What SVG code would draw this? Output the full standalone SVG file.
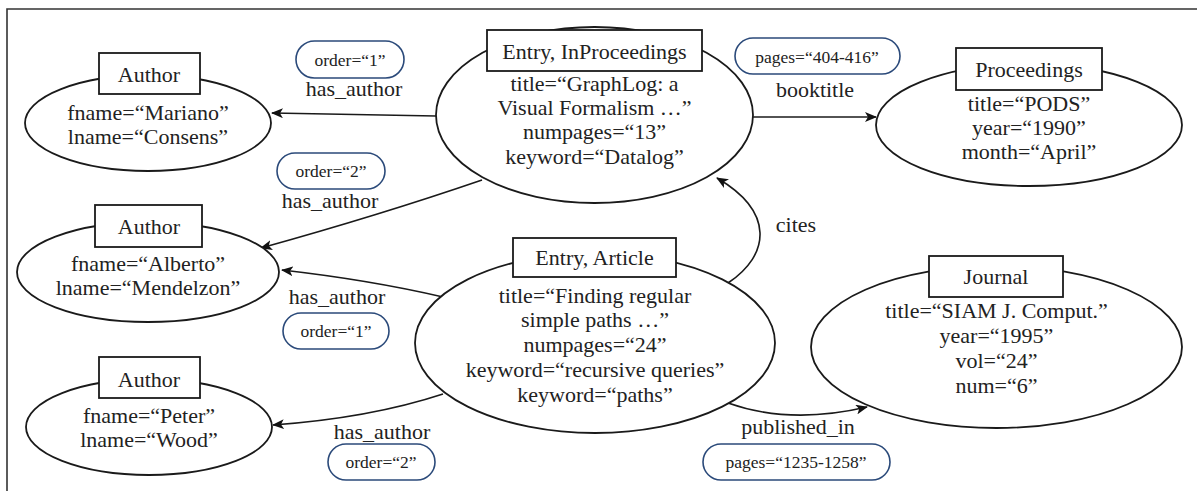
<svg xmlns="http://www.w3.org/2000/svg" width="1197" height="491" viewBox="0 0 1197 491" font-family="'Liberation Serif', 'Times New Roman', 'DejaVu Serif', serif">
<defs>
<marker id="arr" markerWidth="12" markerHeight="10" refX="11" refY="5" orient="auto" markerUnits="userSpaceOnUse">
<path d="M0,0 L12,5 L0,10 L3,5 Z" fill="#111"/>
</marker>
<style>
.bg{fill:#fff}
.frame{fill:none;stroke:#333;stroke-width:1.6}
.ell{fill:#fff;stroke:#1a1a1a;stroke-width:1.8}
.box{fill:#fff;stroke:#1a1a1a;stroke-width:1.8}
.pill{fill:#fff;stroke:#2b4a7a;stroke-width:1.6}
.edge{fill:none;stroke:#1a1a1a;stroke-width:1.6;marker-end:url(#arr)}
text{font-family:'Liberation Serif', 'Times New Roman', serif;fill:#222;text-anchor:middle}
.t{font-size:22px}
.s{font-size:17.5px}
</style>
</defs>
<rect class="bg" x="0" y="0" width="1197" height="491"/>
<path class="frame" d="M7,491 L7,9 L1197,9"/>

<g id="connectors">
<path class="edge" d="M436,116 L272,113"/>
<path class="edge" d="M482,180 Q380,215 261,248"/>
<path class="edge" d="M443,297 Q370,280 282,270"/>
<path class="edge" d="M443,394 Q370,418 273,425"/>
<path class="edge" d="M753,117 L876,117"/>
<path class="edge" d="M728,283 C770,255 775,212 717,178"/>
<path class="edge" d="M728,403 Q790,425 867,407"/>
<g id="label-ha1"><rect class="pill" x="296" y="41" width="108" height="37" rx="18.5"/><text class="s" x="350" y="66">order=“1”</text><text class="t" x="354" y="96">has_author</text></g>
<g id="label-ha2"><rect class="pill" x="277" y="153" width="108" height="36" rx="18"/><text class="s" x="331" y="177">order=“2”</text><text class="t" x="330" y="208">has_author</text></g>
<g id="label-ha3"><text class="t" x="337" y="304">has_author</text><rect class="pill" x="283" y="313" width="106" height="36" rx="18"/><text class="s" x="336" y="337">order=“1”</text></g>
<g id="label-ha4"><text class="t" x="382" y="439">has_author</text><rect class="pill" x="328" y="444" width="107" height="36" rx="18"/><text class="s" x="381" y="468">order=“2”</text></g>
<g id="label-booktitle"><rect class="pill" x="735" y="38" width="165" height="36" rx="18"/><text class="s" x="817" y="63">pages=“404-416”</text><text class="t" x="815" y="97">booktitle</text></g>
<g id="label-cites"><text class="t" x="796" y="232">cites</text></g>
<g id="label-published"><text class="t" x="798" y="434">published_in</text><rect class="pill" x="703" y="444" width="187" height="36" rx="18"/><text class="s" x="796" y="468">pages=“1235-1258”</text></g>
</g>

<g id="author1">
<ellipse class="ell" cx="148" cy="123" rx="123" ry="48"/>
<rect class="box" x="99" y="53" width="101" height="41"/>
<text class="t" x="149" y="82">Author</text>
<text class="t" x="148" y="120">fname=“Mariano”</text>
<text class="t" x="148" y="144">lname=“Consens”</text>
</g>

<g id="author2">
<ellipse class="ell" cx="148" cy="272" rx="131" ry="50"/>
<rect class="box" x="95" y="205" width="107" height="42"/>
<text class="t" x="149" y="234">Author</text>
<text class="t" x="148" y="271">fname=“Alberto”</text>
<text class="t" x="148" y="295">lname=“Mendelzon”</text>
</g>

<g id="author3">
<ellipse class="ell" cx="149" cy="427" rx="123" ry="48"/>
<rect class="box" x="99" y="357" width="101" height="41"/>
<text class="t" x="149" y="387">Author</text>
<text class="t" x="149" y="423">fname=“Peter”</text>
<text class="t" x="149" y="447">lname=“Wood”</text>
</g>

<g id="inproceedings">
<ellipse class="ell" cx="594.5" cy="115" rx="158.5" ry="88"/>
<rect class="box" x="487" y="30" width="215" height="41"/>
<text class="t" x="594.5" y="59">Entry, InProceedings</text>
<text class="t" x="594.5" y="91">title=“GraphLog: a</text>
<text class="t" x="594.5" y="115">Visual Formalism …”</text>
<text class="t" x="594.5" y="139">numpages=“13”</text>
<text class="t" x="594.5" y="164">keyword=“Datalog”</text>
</g>

<g id="proceedings">
<ellipse class="ell" cx="1029" cy="125" rx="153" ry="61"/>
<rect class="box" x="956" y="48" width="146" height="42"/>
<text class="t" x="1029" y="77">Proceedings</text>
<text class="t" x="1029" y="111">title=“PODS”</text>
<text class="t" x="1029" y="135">year=“1990”</text>
<text class="t" x="1029" y="159">month=“April”</text>
</g>

<g id="article">
<ellipse class="ell" cx="595" cy="343" rx="180" ry="90"/>
<rect class="box" x="513" y="238" width="163" height="39"/>
<text class="t" x="594.5" y="265">Entry, Article</text>
<text class="t" x="595" y="303">title=“Finding regular</text>
<text class="t" x="595" y="327">simple paths …”</text>
<text class="t" x="595" y="352">numpages=“24”</text>
<text class="t" x="595" y="377">keyword=“recursive queries”</text>
<text class="t" x="595" y="402">keyword=“paths”</text>
</g>

<g id="journal">
<ellipse class="ell" cx="996.5" cy="347" rx="185.5" ry="81"/>
<rect class="box" x="929" y="256" width="134" height="41"/>
<text class="t" x="996" y="284">Journal</text>
<text class="t" x="996.5" y="318">title=“SIAM J. Comput.”</text>
<text class="t" x="996.5" y="343">year=“1995”</text>
<text class="t" x="996.5" y="368">vol=“24”</text>
<text class="t" x="996.5" y="393">num=“6”</text>
</g>
</svg>
